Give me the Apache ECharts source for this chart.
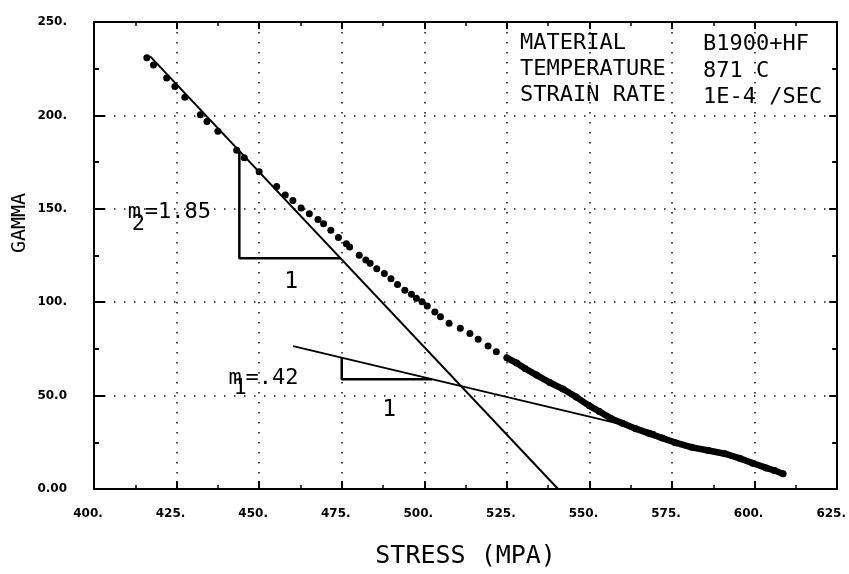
<!DOCTYPE html>
<html>
<head>
<meta charset="utf-8">
<style>
  html, body { margin: 0; padding: 0; background: #fff; }
  #chart { width: 849px; height: 574px; }
</style>
<script src="https://cdn.jsdelivr.net/npm/echarts@6/dist/echarts.min.js"></script>
</head>
<body>
<div id="chart"></div>
<script>
// Measured gamma vs. stress, B1900+Hf at 871 C, strain rate 1E-4 /sec
const stressMPa = [416, 418, 422, 424.5, 427.5, 432.2, 434.2, 437.5, 443.2, 445.5,
  450, 455.3, 457.9, 460.2, 462.7, 465.2, 467.8, 469.5, 471.7, 474,
  476.4, 477.4, 480.3, 482.3, 483.6, 485.6, 487.9, 489.9, 491.9, 494.1,
  496.1, 497.6, 499.3, 500.9, 503.2, 504.9, 507.5, 510.9, 513.8, 516.3,
  519.3, 521.8, 525, 528, 530.5, 534, 538, 542, 546, 550,
  553, 556.5, 560, 564, 568, 572, 576, 581, 586, 591,
  595.5, 599.5, 603.5, 606, 608.6];
const gammaVals = [230.8, 227, 220, 215.5, 209.7, 200.4, 196.8, 191.5, 181.4, 177.3,
  169.8, 161.9, 157.4, 154.4, 150.4, 147.3, 144.3, 142, 138.5, 134.7,
  131.3, 129.5, 125.2, 122.6, 120.8, 117.9, 115.3, 112.5, 109.5, 106.4,
  104.3, 102.1, 100.3, 97.9, 94.8, 92.2, 88.7, 86.0, 83.2, 80.1,
  76.5, 73.5, 70.2, 67.4, 64.5, 61, 57, 53.5, 49.2, 44.5,
  41.5, 37.8, 35.2, 32.3, 29.8, 27.3, 24.8, 22.3, 20.6, 18.9,
  16.4, 13.8, 11.3, 9.9, 8.2];

// Tick labels as printed on the plot
const xTickLabels = ['400.', '425.', '450.', '475.', '500.', '525.', '550.', '575.', '600.', '625.'];
const yTickLabels = ['0.00', '50.0', '100.', '150.', '200.', '250.'];

// Slope construction lines (stress, gamma)
const m2Line = [[417, 231.6], [540.5, 0]];
const m2Triangle = [[444, 180.9], [444, 123.5], [474.6, 123.5]];
const m1Line = [[460.3, 76.5], [570, 30.3]];
const m1Triangle = [[475, 70.3], [475, 58.8], [502.3, 58.8]];

// Test conditions
const conditionKeys = ['MATERIAL', 'TEMPERATURE', 'STRAIN RATE'];
const conditionValues = ['B1900+HF', '871 C', '1E-4 /SEC'];

const points = stressMPa.map((s, i) => [s, gammaVals[i]]);
// Past about 525 MPa the readings are packed so closely that they print as a solid band
const densePart = points.filter(p => p[0] >= 525);

const MONO = '"DejaVu Sans Mono", monospace';
const INK = '#000';

function frameAxis(extra) {
  return Object.assign({
    type: 'value',
    axisLine: { show: true, onZero: false, lineStyle: { color: INK, width: 2 } },
    axisTick: { show: true, inside: true, length: 8, lineStyle: { color: INK, width: 2 } },
    minorTick: { show: true, splitNumber: 2, length: 4, lineStyle: { color: INK, width: 1.5 } },
    axisLabel: { show: false },
    splitLine: { show: false }
  }, extra);
}

const dotted = { show: true, lineStyle: { color: '#111', width: 1.5, type: [1.5, 8.5] } };
const tickFont = { color: INK, fontFamily: '"DejaVu Sans", sans-serif', fontWeight: 'bold', fontSize: 12 };

const chart = echarts.init(document.getElementById('chart'), null, { renderer: 'canvas' });

const option = {
  backgroundColor: '#fff',
  animation: false,
  grid: { left: 94, right: 6, top: 22, bottom: 84, containLabel: false },
  xAxis: [
    frameAxis({
      position: 'bottom', min: 400, max: 625, interval: 25,
      axisLabel: Object.assign({ show: true, margin: 19, padding: [0, 12, 0, 0],
        formatter: v => xTickLabels[Math.round((v - 400) / 25)] }, tickFont),
      splitLine: dotted,
      name: 'STRESS (MPA)', nameLocation: 'middle', nameGap: 55,
      nameTextStyle: { fontFamily: MONO, fontSize: 25, color: INK }
    }),
    frameAxis({ position: 'top', min: 400, max: 625, interval: 25,
      axisTick: { show: true, inside: true, length: 7, lineStyle: { color: INK, width: 2 } } })
  ],
  yAxis: [
    frameAxis({
      position: 'left', min: 0, max: 250, interval: 50,
      axisTick: { show: true, inside: true, length: 11, lineStyle: { color: INK, width: 2 } },
      minorTick: { show: true, splitNumber: 2, length: 5, lineStyle: { color: INK, width: 2 } },
      axisLabel: Object.assign({ show: true, margin: 27,
        formatter: v => yTickLabels[Math.round(v / 50)] }, tickFont),
      splitLine: dotted
    }),
    frameAxis({
      position: 'right', min: 0, max: 250, interval: 50,
      axisTick: { show: true, inside: true, length: 8, lineStyle: { color: INK, width: 2 } },
      minorTick: { show: true, splitNumber: 2, length: 5, lineStyle: { color: INK, width: 2 } }
    })
  ],
  series: [
    {
      name: 'gamma band', type: 'line', data: densePart, symbol: 'none',
      lineStyle: { color: INK, width: 6.5, cap: 'round', join: 'round' }, z: 3
    },
    {
      name: 'gamma', type: 'scatter', data: points, symbol: 'circle', symbolSize: 7,
      itemStyle: { color: INK, opacity: 1 }, z: 4
    },
    { name: 'm2 fit', type: 'line', data: m2Line, symbol: 'none', lineStyle: { color: INK, width: 2 }, z: 5 },
    { name: 'm2 step', type: 'line', data: m2Triangle, symbol: 'none', lineStyle: { color: INK, width: 2.5 }, z: 5 },
    { name: 'm1 fit', type: 'line', data: m1Line, symbol: 'none', lineStyle: { color: INK, width: 2 }, z: 5 },
    { name: 'm1 step', type: 'line', data: m1Triangle, symbol: 'none', lineStyle: { color: INK, width: 2.5 }, z: 5 }
  ]
};

chart.setOption(option);

// Annotations anchored to data coordinates
const toPx = (x, y) => chart.convertToPixel({ gridIndex: 0 }, [x, y]);

function txt(text, x, y, size, align, extra) {
  return Object.assign({
    type: 'text', x: x, y: y, z: 20,
    style: { text: text, fill: INK, font: size + 'px ' + MONO, textAlign: align || 'left', textVerticalAlign: 'middle' }
  }, extra || {});
}

const g = [];
const a2 = toPx(410.2, 147.9);
g.push(txt('m', a2[0], a2[1], 22));
g.push(txt('2', a2[0] + 4, a2[1] + 12, 22));
g.push(txt('=1.85', a2[0] + 17, a2[1], 22));

const a1 = toPx(440.7, 59.3);
g.push(txt('m', a1[0], a1[1], 22));
g.push(txt('1', a1[0] + 5, a1[1] + 10, 22));
g.push(txt('=.42', a1[0] + 17, a1[1], 22));

const r2 = toPx(459.7, 111.0);
g.push(txt('1', r2[0], r2[1], 23, 'center'));
const r1 = toPx(489.4, 42.5);
g.push(txt('1', r1[0], r1[1], 23, 'center'));

// Test-condition block in the upper right corner
const keyRows = [43, 69.7, 95.7];
const valRows = [44.5, 71, 97.5];
conditionKeys.forEach((k, i) => g.push(txt(k, 520, keyRows[i], 22)));
conditionValues.forEach((v, i) => g.push(txt(v, 703, valRows[i], 22)));

// Vertical axis title
g.push(txt('GAMMA', 20, 223, 20, 'center', { rotation: Math.PI / 2 }));

chart.setOption({ graphic: { elements: g } });
</script>
</body>
</html>
